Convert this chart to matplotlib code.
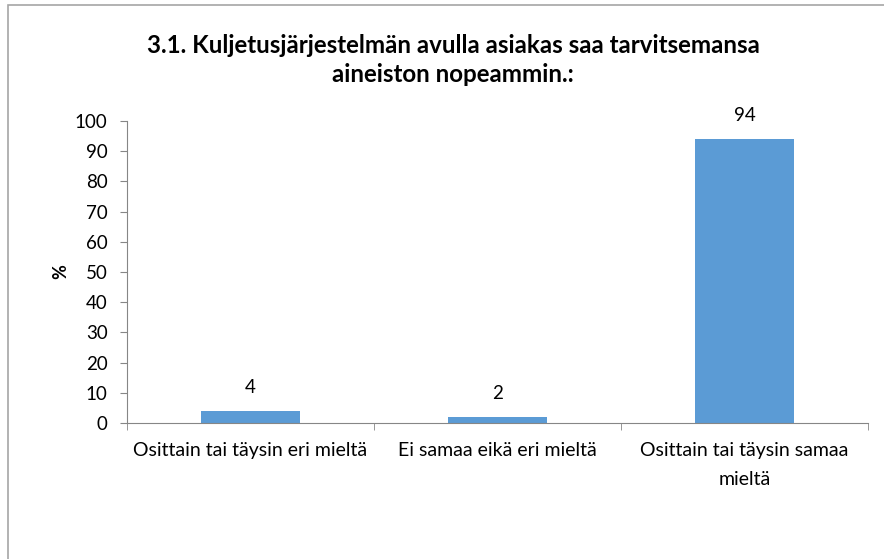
import numpy as np
import matplotlib.pyplot as plt
from matplotlib.patches import Rectangle

plt.rcParams['font.family'] = ['Lato', 'DejaVu Sans']

categories = ['Osittain tai täysin eri mieltä',
              'Ei samaa eikä eri mieltä',
              'Osittain tai täysin samaa\nmieltä']
values = [4, 2, 94]
title = '3.1. Kuljetusjärjestelmän avulla asiakas saa tarvitsemansa\naineiston nopeammin.:'

bar_color = '#5B9BD5'
axis_color = '#868686'

fig = plt.figure(figsize=(8.84, 5.59), dpi=100)
ax = fig.add_axes([127 / 884, 1 - 423 / 559, 741 / 884, 302 / 559])

# outer chart border (only top and left visible in the image)
fig.patches.append(Rectangle((8 / 884, -0.1), 1.2, 1 - 5 / 559 + 0.1,
                             transform=fig.transFigure, fill=False,
                             edgecolor='#a6a6a6', linewidth=1.2))

x = np.arange(len(categories))
bars = ax.bar(x, values, width=0.4, color=bar_color, zorder=2)

for xi, v in zip(x, values):
    ax.annotate(str(v), (xi, v), xytext=(0, 17), textcoords='offset points',
                ha='center', va='center', fontsize=13.5)

ax.set_xlim(-0.5, len(categories) - 0.5)
ax.set_ylim(0, 100)
ax.set_yticks(range(0, 101, 10))

ax.set_xticks(x)
ax.set_xticklabels(categories, fontsize=14, linespacing=1.8)
ax.set_xticks(np.arange(-0.5, len(categories)), minor=True)
ax.tick_params(axis='x', which='major', length=0, pad=14)
ax.tick_params(axis='x', which='minor', length=5, color=axis_color)
ax.tick_params(axis='y', length=5, color=axis_color, labelsize=13.5, pad=9)

for s in ['top', 'right']:
    ax.spines[s].set_visible(False)
for s in ['left', 'bottom']:
    ax.spines[s].set_color(axis_color)

ax.set_ylabel('%', fontsize=13, fontweight='bold', labelpad=4)

fig.text(453 / 884, 1 - 60 / 559, title, ha='center', va='center',
         fontsize=17.4, fontweight='bold', linespacing=1.35)

fig.savefig('out.png', dpi=100)
